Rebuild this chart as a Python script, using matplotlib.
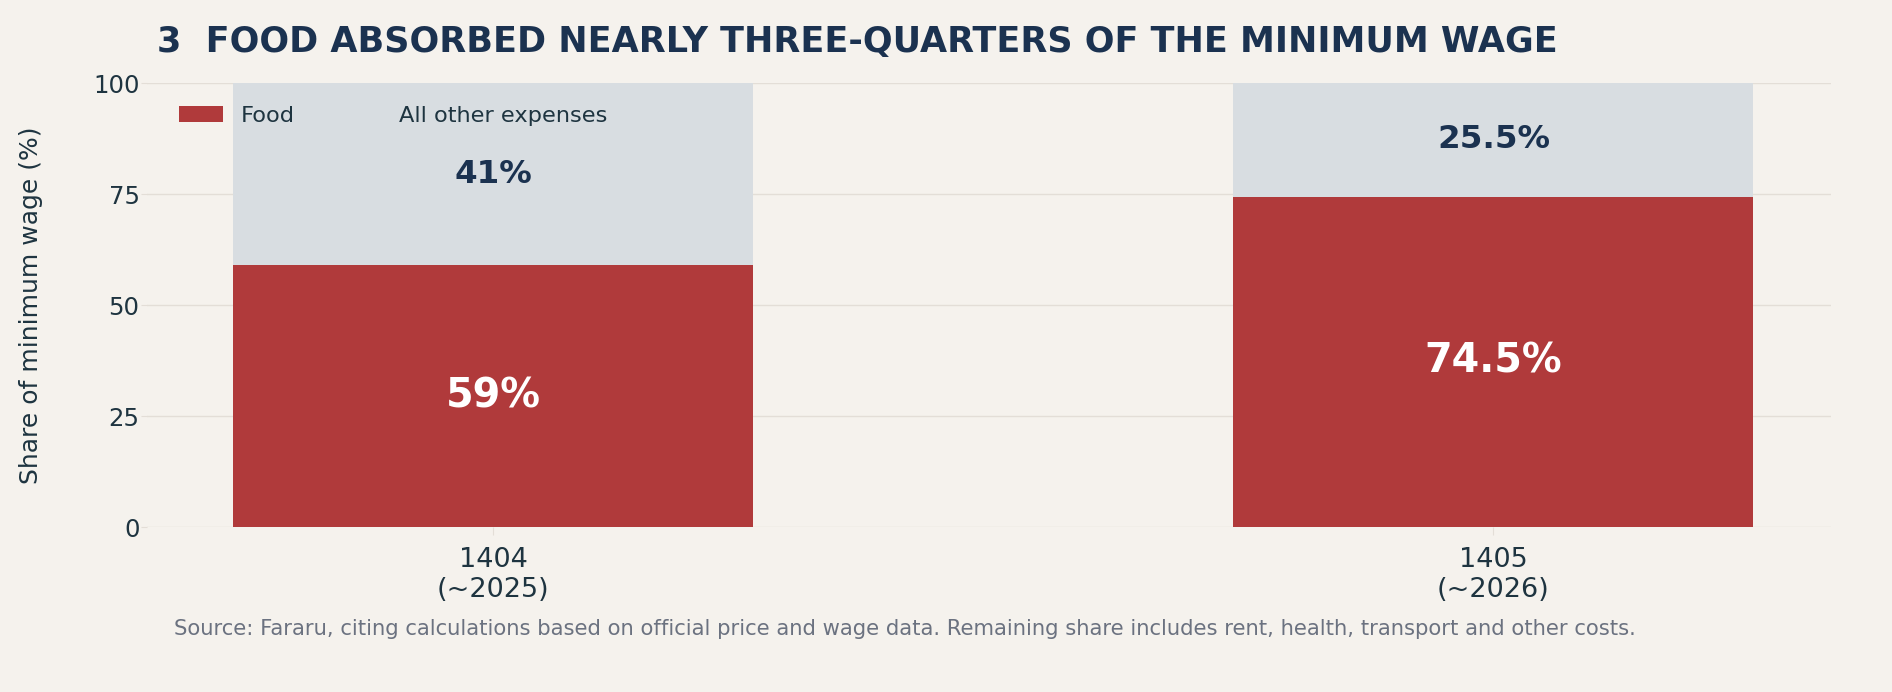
import numpy as np
import matplotlib.pyplot as plt

years = ["1404\n(~2025)", "1405\n(~2026)"]
food = [59, 74.5]
other = [41, 25.5]
food_labels = ["59%", "74.5%"]
other_labels = ["41%", "25.5%"]

BG = "#F5F2ED"
RED = "#B03A3B"
GREY = "#D8DDE1"
NAVY = "#1B3250"
TEXT = "#1E3440"


def main():
    fig = plt.figure(figsize=(18.92, 6.92), dpi=100, facecolor=BG)
    ax = fig.add_axes([0.0778, 0.2381, 0.8897, 0.6415], facecolor=BG)

    x = np.arange(len(years))
    w = 0.52
    ax.bar(x, food, w, color=RED, label="Food", zorder=2)
    ax.bar(x, other, w, bottom=food, color=GREY, label="All other expenses", zorder=2)

    for i in range(len(x)):
        ax.text(x[i], food[i] / 2, food_labels[i], ha="center", va="center",
                color="white", fontsize=28.6, fontweight="bold", zorder=3)
        ax.text(x[i], food[i] + other[i] / 2, other_labels[i], ha="center", va="center",
                color=NAVY, fontsize=23.4, fontweight="bold", zorder=3)

    ax.set_xlim(-0.346, 1.337)
    ax.set_ylim(0, 100)
    ax.set_yticks([0, 25, 50, 75, 100])
    ax.set_xticks(x)
    ax.set_xticklabels(years)
    ax.tick_params(axis="y", labelsize=17.6, colors="#E3DED7", labelcolor=TEXT, length=4, pad=1.5)
    ax.tick_params(axis="x", labelsize=19.5, colors="#E3DED7", labelcolor=TEXT, length=6, pad=8)
    ax.grid(axis="y", color="#E3DED7", linewidth=1, zorder=0)
    for s in ax.spines.values():
        s.set_visible(False)
    ax.set_ylabel("Share of minimum wage (%)", fontsize=18, color=TEXT, labelpad=36)

    ax.legend(loc="upper left", ncol=2, frameon=False, fontsize=16.2,
              bbox_to_anchor=(0.007, 0.995), handlelength=1.95, columnspacing=1.85,
              labelcolor=TEXT)

    fig.text(0.083, 0.94, "3  FOOD ABSORBED NEARLY THREE-QUARTERS OF THE MINIMUM WAGE",
             fontsize=25.2, fontweight="bold", color=NAVY, ha="left", va="center")
    fig.text(0.092, 0.091,
             "Source: Fararu, citing calculations based on official price and wage data. "
             "Remaining share includes rent, health, transport and other costs.",
             fontsize=15.2, color="#6B7280", ha="left", va="center")

    fig.savefig("out.png", dpi=100, facecolor=BG)


if __name__ == '__main__':
    main()
